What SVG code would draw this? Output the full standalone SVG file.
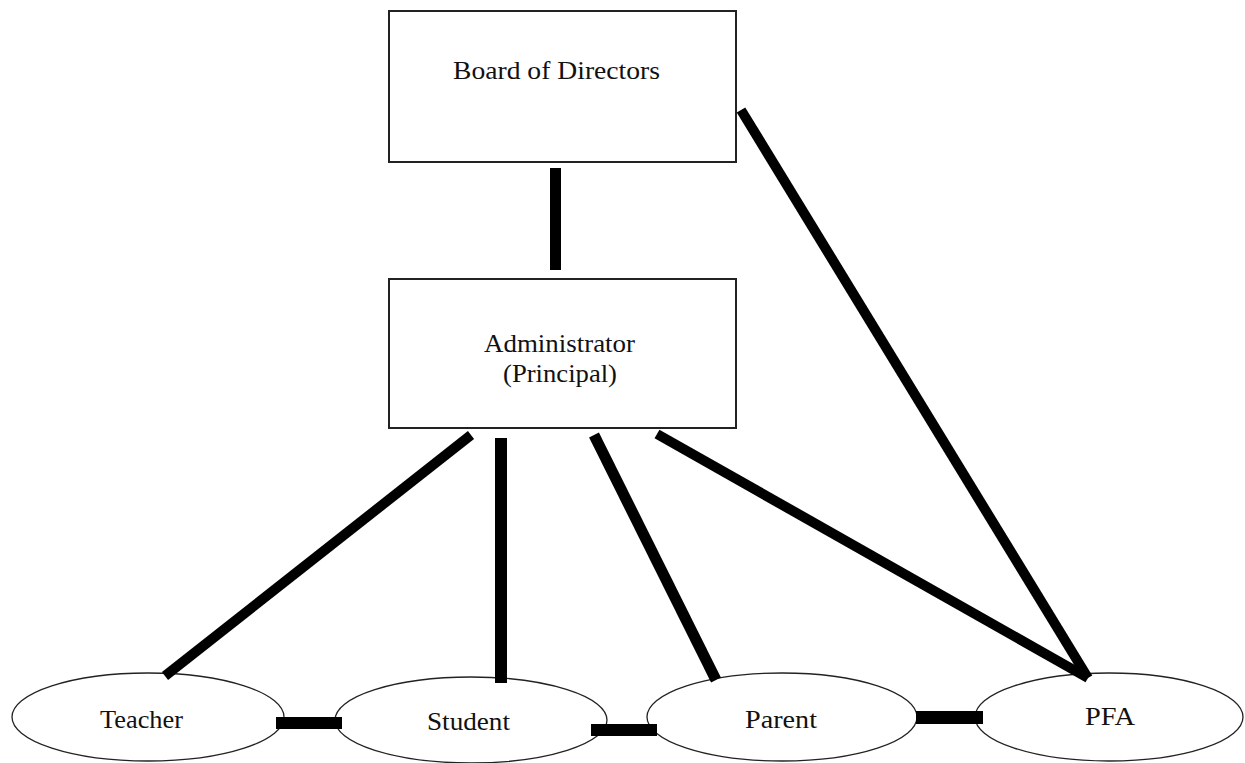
<svg xmlns="http://www.w3.org/2000/svg" width="1245" height="763" viewBox="0 0 1245 763">
<style>
.box{fill:#fff;stroke:#222;stroke-width:2}
.ell{fill:#fff;stroke:#222;stroke-width:1.3}
.lbl{font-family:"Liberation Serif","Times New Roman",serif;font-size:26px;fill:#111;text-anchor:middle}
.ln{stroke:#000;stroke-width:10;fill:none}
.bar{fill:#000}
</style>
<rect width="1245" height="763" fill="#fff"/>
<g id="board"><rect class="box" x="389" y="11" width="347" height="151"/><text class="lbl" x="556.5" y="79" textLength="207" lengthAdjust="spacingAndGlyphs">Board of Directors</text></g>
<g id="admin"><rect class="box" x="389" y="279" width="347" height="149"/><text class="lbl" x="559.5" y="352" textLength="151" lengthAdjust="spacingAndGlyphs">Administrator</text><text class="lbl" x="560" y="382" textLength="114" lengthAdjust="spacingAndGlyphs">(Principal)</text></g>
<g id="teacher"><ellipse class="ell" cx="148" cy="717" rx="136" ry="44"/><text class="lbl" x="141.5" y="728" textLength="83" lengthAdjust="spacingAndGlyphs">Teacher</text></g>
<g id="student"><ellipse class="ell" cx="471" cy="720" rx="136" ry="43"/><text class="lbl" x="468.5" y="730" textLength="83" lengthAdjust="spacingAndGlyphs">Student</text></g>
<g id="parent"><ellipse class="ell" cx="782" cy="717" rx="135" ry="44"/><text class="lbl" x="781" y="728" textLength="72" lengthAdjust="spacingAndGlyphs">Parent</text></g>
<g id="pfa"><ellipse class="ell" cx="1109" cy="717" rx="134" ry="44"/><text class="lbl" x="1110" y="725" textLength="50" lengthAdjust="spacingAndGlyphs">PFA</text></g>
<g id="connectors">
<line class="ln" x1="555.5" y1="168" x2="555.5" y2="270" style="stroke-width:11"/>
<line class="ln" x1="741" y1="110" x2="1088" y2="678"/>
<line class="ln" x1="471" y1="435" x2="165" y2="676"/>
<line class="ln" x1="501" y1="438" x2="501" y2="683" style="stroke-width:12"/>
<line class="ln" x1="594" y1="435" x2="716" y2="680" style="stroke-width:11"/>
<line class="ln" x1="657" y1="434" x2="1088" y2="678"/>
<rect class="bar" x="276" y="717" width="66" height="12"/>
<rect class="bar" x="591" y="724" width="66" height="12"/>
<rect class="bar" x="916" y="711" width="67" height="13"/>
</g>
</svg>
